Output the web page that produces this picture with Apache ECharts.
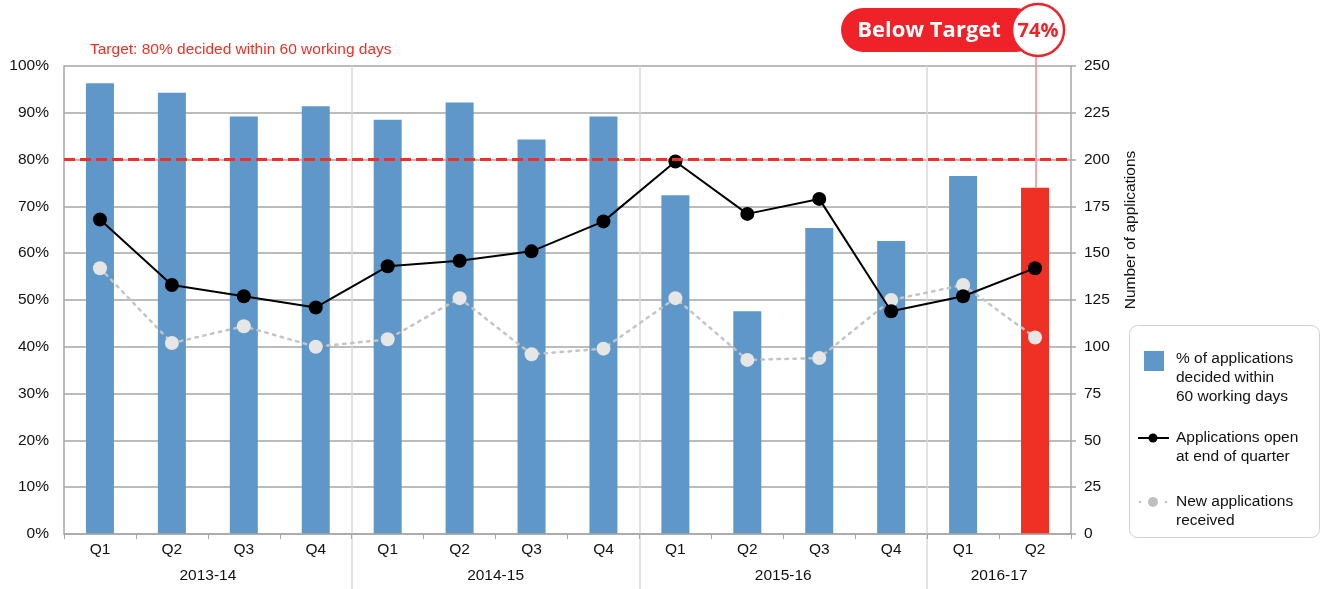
<!DOCTYPE html>
<html>
<head>
<meta charset="utf-8">
<script src="https://cdn.jsdelivr.net/npm/echarts@6/dist/echarts.min.js"></script>
<style>html,body{margin:0;padding:0;background:#fff}#c{width:1321px;height:589px}</style>
</head>
<body>
<div id="c"></div>
<script>
const quarters = ['Q1','Q2','Q3','Q4','Q1','Q2','Q3','Q4','Q1','Q2','Q3','Q4','Q1','Q2'];
const years = ['2013-14','2014-15','2015-16','2016-17'];
const quartersPerYear = [4, 4, 4, 2];
const pctDecided = [96.3, 94.3, 89.2, 91.4, 88.5, 92.2, 84.3, 89.2, 72.4, 47.6, 65.4, 62.6, 76.5, 74];
const openApps = [168, 133, 127, 121, 143, 146, 151, 167, 199, 171, 179, 119, 127, 142];
const newApps = [142, 102, 111, 100, 104, 126, 96, 99, 126, 93, 94, 125, 133, 105];
const targetPct = 80;
const leftTicks = {min: 0, max: 100, interval: 10};
const rightTicks = {min: 0, max: 250, interval: 25};

const FONT = '"Liberation Sans", Arial, sans-serif';
const FS = 15.5;
const RED = '#ee3124';
const BLUE = '#6097c9';
const GRID = '#a6a6a6';
const SEP = '#d9d9d9';

const yearMid = [], yearBounds = [];
let acc = 0;
quartersPerYear.forEach((n, i) => {
  yearMid.push(acc + n / 2);
  acc += n;
  if (i < quartersPerYear.length - 1) yearBounds.push(acc);
});

const chart = echarts.init(document.getElementById('c'), null, {renderer: 'canvas'});
const lastIdx = pctDecided.length - 1;

chart.setOption({
  animation: false,
  textStyle: {fontFamily: FONT},
  grid: {left: 64, right: 250, top: 66, bottom: 55, containLabel: false},
  xAxis: [
    {
      type: 'category', data: quarters, boundaryGap: true,
      axisLine: {lineStyle: {color: GRID, width: 1.5}},
      axisTick: {show: true, length: 5, lineStyle: {color: GRID}},
      axisLabel: {color: '#111', fontSize: FS, margin: 8, fontFamily: FONT},
      splitLine: {show: false}, z: 3
    },
    {
      type: 'value', min: 0, max: quarters.length, interval: 4, position: 'bottom',
      axisLine: {show: false},
      axisTick: {show: true, customValues: yearBounds, length: 55, lineStyle: {color: SEP, width: 1.5}},
      axisLabel: {
        customValues: yearMid, color: '#111', fontSize: FS, margin: 34, fontFamily: FONT,
        formatter: v => { const i = yearMid.indexOf(v); return i >= 0 ? years[i] : ''; }
      },
      splitLine: {show: true, lineStyle: {color: SEP, width: 1.5}}
    }
  ],
  yAxis: [
    {
      type: 'value', min: leftTicks.min, max: leftTicks.max, interval: leftTicks.interval,
      axisLine: {show: true, lineStyle: {color: GRID, width: 1.5}},
      axisTick: {show: false},
      axisLabel: {formatter: '{value}%', color: '#111', fontSize: FS, margin: 15, fontFamily: FONT},
      splitLine: {show: true, lineStyle: {color: GRID, width: 1.5}}
    },
    {
      type: 'value', min: rightTicks.min, max: rightTicks.max, interval: rightTicks.interval,
      position: 'right',
      axisLine: {show: true, lineStyle: {color: GRID, width: 1.5}},
      axisTick: {show: true, length: 5, lineStyle: {color: GRID, width: 1.5}},
      axisLabel: {color: '#111', fontSize: FS, margin: 13, fontFamily: FONT},
      splitLine: {show: false}
    }
  ],
  series: [
    {
      name: '% of applications decided within 60 working days',
      type: 'bar', data: pctDecided, barWidth: 28, xAxisIndex: 0, yAxisIndex: 0,
      itemStyle: {color: p => p.dataIndex === lastIdx ? RED : BLUE},
      z: 2,
      markLine: {
        silent: true, symbol: 'none', label: {show: false},
        lineStyle: {color: RED, type: [11, 5], width: 3},
        data: [{yAxis: targetPct}],
        z: 5
      }
    },
    {
      name: 'New applications received',
      type: 'line', data: newApps, xAxisIndex: 0, yAxisIndex: 1,
      symbol: 'circle', symbolSize: 14,
      lineStyle: {color: '#c4c4c4', width: 2.5, type: [2.5, 5.5], cap: 'round'},
      itemStyle: {color: '#e6e6e6'},
      z: 3
    },
    {
      name: 'Applications open at end of quarter',
      type: 'line', data: openApps, xAxisIndex: 0, yAxisIndex: 1,
      symbol: 'circle', symbolSize: 14,
      lineStyle: {color: '#000', width: 2},
      itemStyle: {color: '#000'},
      z: 4
    }
  ]
});

const barTop = chart.convertToPixel({xAxisIndex: 0, yAxisIndex: 0}, [lastIdx, pctDecided[lastIdx]]);
const bx = barTop[0], cy = 30, r = 27, cx = bx + 3;
const TXT = FS + 'px ' + FONT;

chart.setOption({
  graphic: [
    {type: 'text', x: 90, y: 50, style: {text: 'Target: 80% decided within 60 working days', fill: RED, font: TXT, verticalAlign: 'middle'}},
    {type: 'text', x: 1131, y: 230, rotation: Math.PI / 2,
      style: {text: 'Number of applications', fill: '#111', font: TXT, align: 'center', verticalAlign: 'middle'}},
    {type: 'line', shape: {x1: bx + 1, y1: cy + r, x2: bx + 1, y2: barTop[1]}, style: {stroke: '#f08c8c', lineWidth: 1.5}, z: 10},
    {type: 'rect', shape: {x: cx - 197, y: cy - 22, width: 197, height: 44, r: 22}, style: {fill: '#ee2228'}, z: 10},
    {type: 'text', x: cx - 109, y: cy + 1, style: {text: 'Below Target', fill: '#fff', font: 'bold 22px "Open Sans", sans-serif', align: 'center', verticalAlign: 'middle'}, z: 11},
    {type: 'circle', shape: {cx: cx, cy: cy, r: r - 1}, style: {fill: '#fff', stroke: '#ee2228', lineWidth: 2.5}, z: 11},
    {type: 'text', x: cx, y: cy + 1, style: {text: Math.round(pctDecided[lastIdx]) + '%', fill: '#ee2228', font: 'bold 20px "Open Sans", sans-serif', align: 'center', verticalAlign: 'middle'}, z: 12},
    {type: 'rect', shape: {x: 1129.5, y: 325.5, width: 190, height: 212, r: 8}, style: {fill: '#fff', stroke: '#d0d0d0', lineWidth: 1}},
    {type: 'rect', shape: {x: 1144, y: 351, width: 20, height: 20}, style: {fill: BLUE}},
    {type: 'text', x: 1176, y: 349, style: {text: '% of applications\ndecided within\n60 working days', fill: '#111', font: TXT, lineHeight: 19, verticalAlign: 'top'}},
    {type: 'line', shape: {x1: 1138, y1: 438, x2: 1169, y2: 438}, style: {stroke: '#000', lineWidth: 2}},
    {type: 'circle', shape: {cx: 1153, cy: 438, r: 4.5}, style: {fill: '#000'}},
    {type: 'text', x: 1176, y: 428, style: {text: 'Applications open\nat end of quarter', fill: '#111', font: TXT, lineHeight: 19, verticalAlign: 'top'}},
    {type: 'circle', shape: {cx: 1140, cy: 502, r: 1.3}, style: {fill: '#c4c4c4'}},
    {type: 'circle', shape: {cx: 1166, cy: 502, r: 1.3}, style: {fill: '#c4c4c4'}},
    {type: 'circle', shape: {cx: 1153, cy: 502, r: 5}, style: {fill: '#bfbfbf'}},
    {type: 'text', x: 1176, y: 492, style: {text: 'New applications\nreceived', fill: '#111', font: TXT, lineHeight: 19, verticalAlign: 'top'}}
  ]
});
</script>
</body>
</html>
